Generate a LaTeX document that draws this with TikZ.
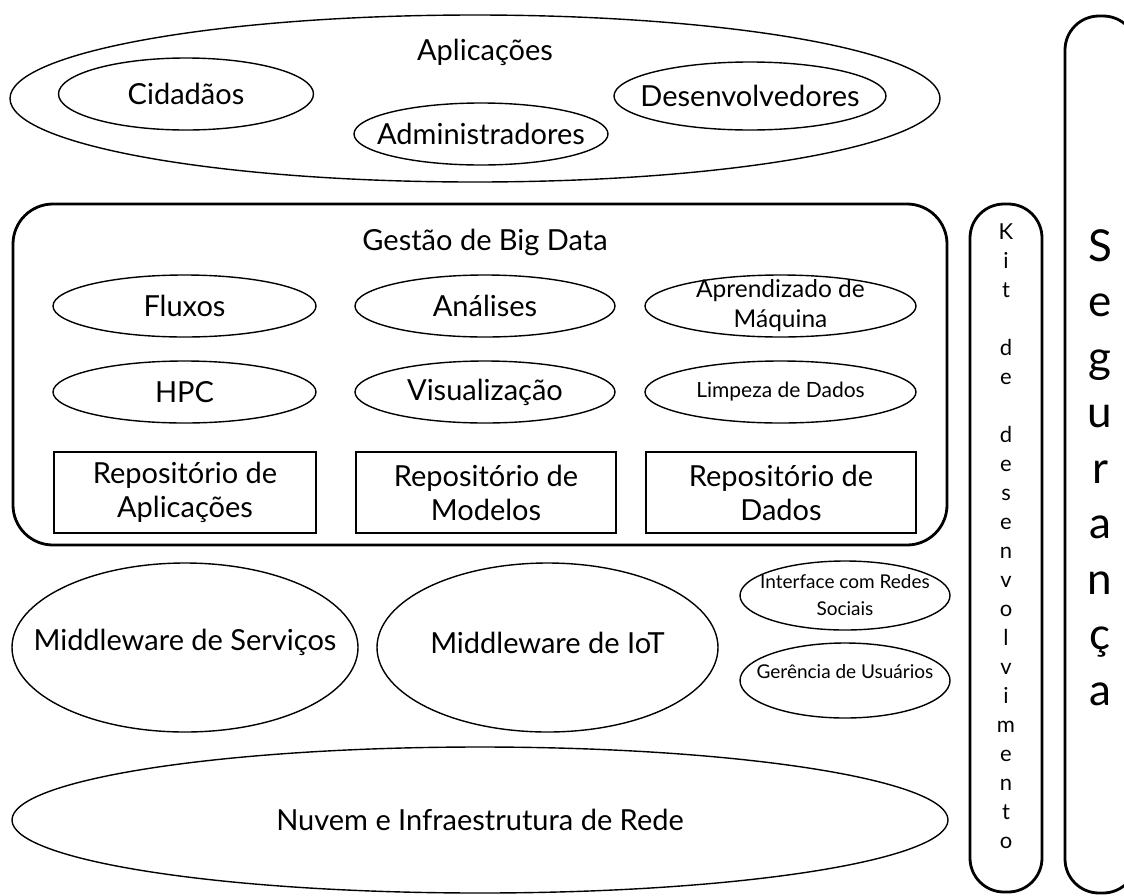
\documentclass[tikz,border=0pt]{standalone}
\usepackage{fontspec}
\setmainfont{Lato}
\usetikzlibrary{shapes.geometric}

\begin{document}
\begin{tikzpicture}[x=1pt,y=-1pt,
  oval/.style={draw,ellipse,line width=1.4pt,inner sep=0pt},
  repo/.style={draw,line width=1.4pt,inner sep=0pt,align=center,minimum height=81pt},
  layer/.style={draw,line width=2.8pt,inner sep=0pt},
  big/.style={font=\fontsize{29}{34}\selectfont,align=center},
  small/.style={font=\fontsize{24.5}{30}\selectfont,align=center},
  tiny/.style={font=\fontsize{19}{27}\selectfont,align=center}]
\useasboundingbox (0,0) rectangle (1124,895);

\node[oval,minimum width=930pt,minimum height=167pt] (apps) at (475,98.5) {};
\node[big] (appstitle) at (485,52) {Aplicações};
\node[oval,minimum width=255pt,minimum height=72pt,label={[big]center:Cidadãos}] (cid) at (186,94) {};
\node[oval,minimum width=254pt,minimum height=62pt,label={[big]center:Administradores}] (adm) at (481,134) {};
\node[oval,minimum width=272pt,minimum height=68pt,label={[big]center:Desenvolvedores}] (dev) at (750,96) {};

\node[layer,rounded corners=40pt,minimum width=934pt,minimum height=341pt] (bigdata) at (480,374.5) {};
\node[big] (bdtitle) at (485,242) {Gestão de Big Data};
\node[oval,minimum width=263pt,minimum height=62pt,label={[big]center:Fluxos}] (flux) at (184.5,306) {};
\node[oval,minimum width=260pt,minimum height=62pt,label={[big]center:Análises}] (anal) at (485,306) {};
\node[oval,minimum width=271pt,minimum height=62pt,label={[small]center:Aprendizado de\\Máquina}] (ml) at (780.5,306) {};
\node[oval,minimum width=263pt,minimum height=62pt,label={[big]center:HPC}] (hpc) at (184.5,392) {};
\node[oval,minimum width=260pt,minimum height=62pt,label={[big]center:Visualização}] (vis) at (485,392) {};
\node[oval,minimum width=271pt,minimum height=62pt,label={[font=\fontsize{21}{26}\selectfont]center:Limpeza de Dados}] (clean) at (780.5,392) {};
\node[repo,big,minimum width=262pt] (rapp) at (185,492.5) {Repositório de\\Aplicações};
\node[repo,big,minimum width=260pt] (rmod) at (486,492.5) {Repositório de\\Modelos};
\node[repo,big,minimum width=270pt] (rdat) at (781,492.5) {Repositório de\\Dados};

\node[oval,minimum width=346pt,minimum height=169pt,label={[big,yshift=5pt]center:Middleware de Serviços}] (mws) at (185,647.5) {};
\node[oval,minimum width=341pt,minimum height=169pt,label={[big,yshift=5pt]center:Middleware de IoT}] (mwi) at (547.5,647.5) {};
\node[oval,minimum width=210pt,minimum height=69pt,label={[tiny]center:Interface com Redes\\Sociais}] (social) at (845,595.5) {};
\node[oval,minimum width=210pt,minimum height=75pt,label={[tiny,yshift=9pt]center:Gerência de Usuários}] (users) at (845,680.5) {};
\node[oval,minimum width=936pt,minimum height=146pt,label={[big]center:Nuvem e Infraestrutura de Rede}] (cloud) at (480,820) {};

\node[layer,rounded corners=34pt,minimum width=72pt,minimum height=688pt] (kit) at (1006,548) {};
\node[font=\fontsize{22}{29}\selectfont,align=center,anchor=north,inner sep=0pt] (kittext) at (1006,224)
  {K\\i\\t\\[29pt]d\\e\\[29pt]d\\e\\s\\e\\n\\v\\o\\l\\v\\i\\m\\e\\n\\t\\o};
\node[layer,rounded corners=34pt,minimum width=72pt,minimum height=877pt] (seg) at (1101,454.5) {};
\node[font=\fontsize{44}{55.5}\selectfont,align=center,anchor=north,inner sep=0pt] (segtext) at (1100,229)
  {S\\e\\g\\u\\r\\a\\n\\ç\\a};
\end{tikzpicture}
\end{document}
